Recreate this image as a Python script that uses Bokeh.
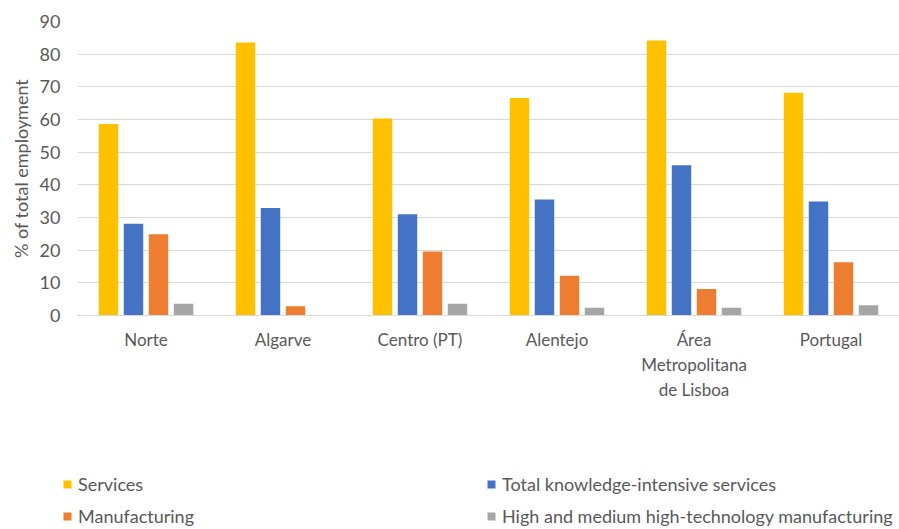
from bokeh.plotting import figure
from bokeh.models import ColumnDataSource, Legend, LegendItem, FixedTicker
from bokeh.transform import dodge
from bokeh.embed import file_html
from bokeh.resources import INLINE

regions = ["Norte", "Algarve", "Centro (PT)", "Alentejo", "Área\nMetropolitana\nde Lisboa", "Portugal"]
services = [58.6, 83.6, 60.3, 66.6, 84.2, 68.2]
kis = [28.1, 32.9, 31.0, 35.5, 46.0, 34.9]
manufacturing = [24.9, 2.8, 19.6, 12.2, 8.1, 16.3]
hightech = [3.6, float("nan"), 3.6, 2.4, 2.4, 3.1]

series_names = ["Services", "Total knowledge-intensive services", "Manufacturing",
                "High and medium high-technology manufacturing"]
colors = ["#FFC000", "#4472C4", "#ED7D31", "#A5A5A5"]
y_ticks = [0, 10, 20, 30, 40, 50, 60, 70, 80, 90]

FONT = "Lato"
TXT = "#595959"

source = ColumnDataSource(dict(region=regions, services=services, kis=kis,
                               manufacturing=manufacturing, hightech=hightech))

p = figure(x_range=regions, y_range=(0, 90), width=899, height=420,
           output_backend="svg", toolbar_location=None,
           min_border_left=77, min_border_right=0, min_border_top=21,
           min_border_bottom=105)
p.outline_line_color = None

step = 0.1825
bw = 0.142
cols = ["services", "kis", "manufacturing", "hightech"]
for i, (c, col) in enumerate(zip(cols, colors)):
    p.vbar(x=dodge("region", (i - 1.5) * step, range=p.x_range), top=c, width=bw,
           source=source, fill_color=col, line_color=None)

# axes
p.yaxis.ticker = FixedTicker(ticks=y_ticks)
p.yaxis.axis_line_color = None
p.yaxis.major_tick_line_color = None
p.yaxis.minor_tick_line_color = None
p.yaxis.major_tick_out = 0
p.yaxis.major_tick_in = 0
p.yaxis.minor_tick_out = 0
p.yaxis.major_label_text_font = FONT
p.yaxis.major_label_text_font_size = "18px"
p.yaxis.major_label_text_color = TXT
p.yaxis.major_label_standoff = 17
p.yaxis.axis_label = "% of total employment"
p.yaxis.axis_label_text_font = FONT
p.yaxis.axis_label_text_font_size = "18px"
p.yaxis.axis_label_text_font_style = "normal"
p.yaxis.axis_label_text_color = TXT
p.yaxis.axis_label_standoff = 5

p.xaxis.axis_line_color = "#D9D9D9"
p.xaxis.axis_line_width = 1
p.xaxis.major_tick_line_color = None
p.xaxis.minor_tick_line_color = None
p.xaxis.major_tick_out = 0
p.xaxis.major_tick_in = 0
p.xaxis.major_label_text_font = FONT
p.xaxis.major_label_text_font_size = "17px"
p.xaxis.major_label_text_color = TXT
p.xaxis.major_label_standoff = 13

p.xgrid.grid_line_color = None
p.ygrid.grid_line_color = "#D9D9D9"
p.ygrid.grid_line_width = 1

# legend strip: a separate root whose frame spans the whole strip
lg = figure(width=899, height=109, output_backend="svg", toolbar_location=None,
            min_border=0, x_range=(0, 1), y_range=(0, 1),
            x_axis_location=None, y_axis_location=None)
lg.grid.visible = False
lg.outline_line_color = None
# legend swatches only: placed outside the visible range
dummy = [lg.vbar(x=[5], top=[1], width=0.1, fill_color=c, line_color=None) for c in colors]

items = [LegendItem(label=series_names[i], renderers=[dummy[i]]) for i in [0, 2, 1, 3]]
legend = Legend(items=items, ncols=2, location=(62, 2),
                label_text_font=FONT, label_text_font_size="18px", label_text_color=TXT,
                glyph_width=10, glyph_height=10, label_standoff=6, spacing=10,
                label_width=398, padding=0, margin=0,
                border_line_color=None, background_fill_alpha=0)
lg.add_layout(legend, "center")

open("out.html", "w").write(file_html([p, lg], INLINE))
